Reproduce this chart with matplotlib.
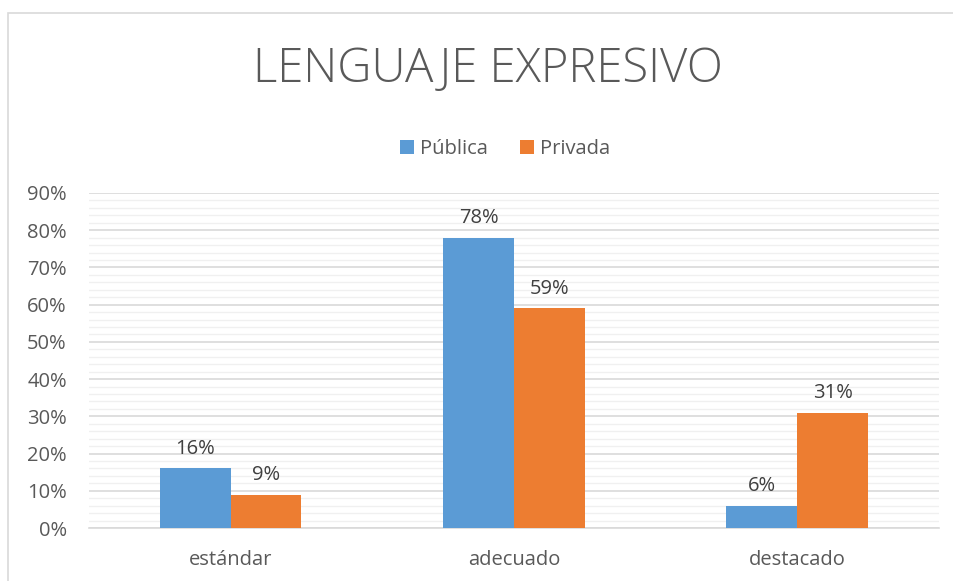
import numpy as np
import matplotlib.pyplot as plt
from matplotlib.patches import Rectangle
from matplotlib.ticker import MultipleLocator, FuncFormatter

# -------- Data --------
categories = ["estándar", "adecuado", "destacado"]
publica = [0.16, 0.78, 0.06]
privada = [0.09, 0.59, 0.31]
series_names = ["Pública", "Privada"]
colors = ["#5b9bd5", "#ed7d31"]

plt.rcParams["font.family"] = ["Open Sans", "DejaVu Sans"]
text_color = "#595959"

fig = plt.figure(figsize=(9.54, 5.81), dpi=100)

# chart frame (only top and left edges visible in the crop)
fig.patches.append(Rectangle((8 / 954, -0.1), 1.2, 1.1 - 13 / 581,
                             transform=fig.transFigure, fill=False,
                             edgecolor="#d9d9d9", linewidth=1.2))

ax = fig.add_axes([89 / 954, 53 / 581, 850 / 954, 335 / 581])

x = np.arange(len(categories))
w = 0.25
b1 = ax.bar(x - w / 2, publica, w, color=colors[0], label=series_names[0], zorder=3)
b2 = ax.bar(x + w / 2, privada, w, color=colors[1], label=series_names[1], zorder=3)

for bars, vals in [(b1, publica), (b2, privada)]:
    for bar, v in zip(bars, vals):
        ax.text(bar.get_x() + bar.get_width() / 2, v + 0.026, f"{round(v * 100)}%",
                ha="center", va="bottom", fontsize=14.5, color="#404040")

ax.set_xlim(-0.5, 2.5)
ax.set_ylim(0, 0.9)
ax.yaxis.set_major_locator(MultipleLocator(0.1))
ax.yaxis.set_minor_locator(MultipleLocator(0.02))
ax.yaxis.set_major_formatter(FuncFormatter(lambda v, p: f"{round(v * 100)}%"))
ax.grid(axis="y", which="major", color="#d9d9d9", linewidth=1.2, zorder=0)
ax.grid(axis="y", which="minor", color="#f0f0f0", linewidth=1.0, zorder=0)
ax.set_xticks(x)
ax.set_xticklabels(categories)
ax.tick_params(axis="both", which="both", length=0, labelsize=14.5, labelcolor=text_color)
ax.tick_params(axis="x", pad=16)
ax.tick_params(axis="y", pad=16)
for s in ["top", "right", "left"]:
    ax.spines[s].set_visible(False)
ax.spines["bottom"].set_color("#d9d9d9")
ax.spines["bottom"].set_linewidth(1.2)

fig.text(488 / 954, 1 - 70 / 581, "LENGUAJE EXPRESIVO", ha="center", va="center",
         fontsize=34, color=text_color, fontweight="light")

fig.legend(loc="center", bbox_to_anchor=(505 / 954, 1 - 149 / 581), ncol=2,
           frameon=False, fontsize=14.5, labelcolor=text_color, handlelength=0.7,
           handleheight=0.7, handletextpad=0.3, columnspacing=1.6)

fig.savefig("out.png", dpi=100)
